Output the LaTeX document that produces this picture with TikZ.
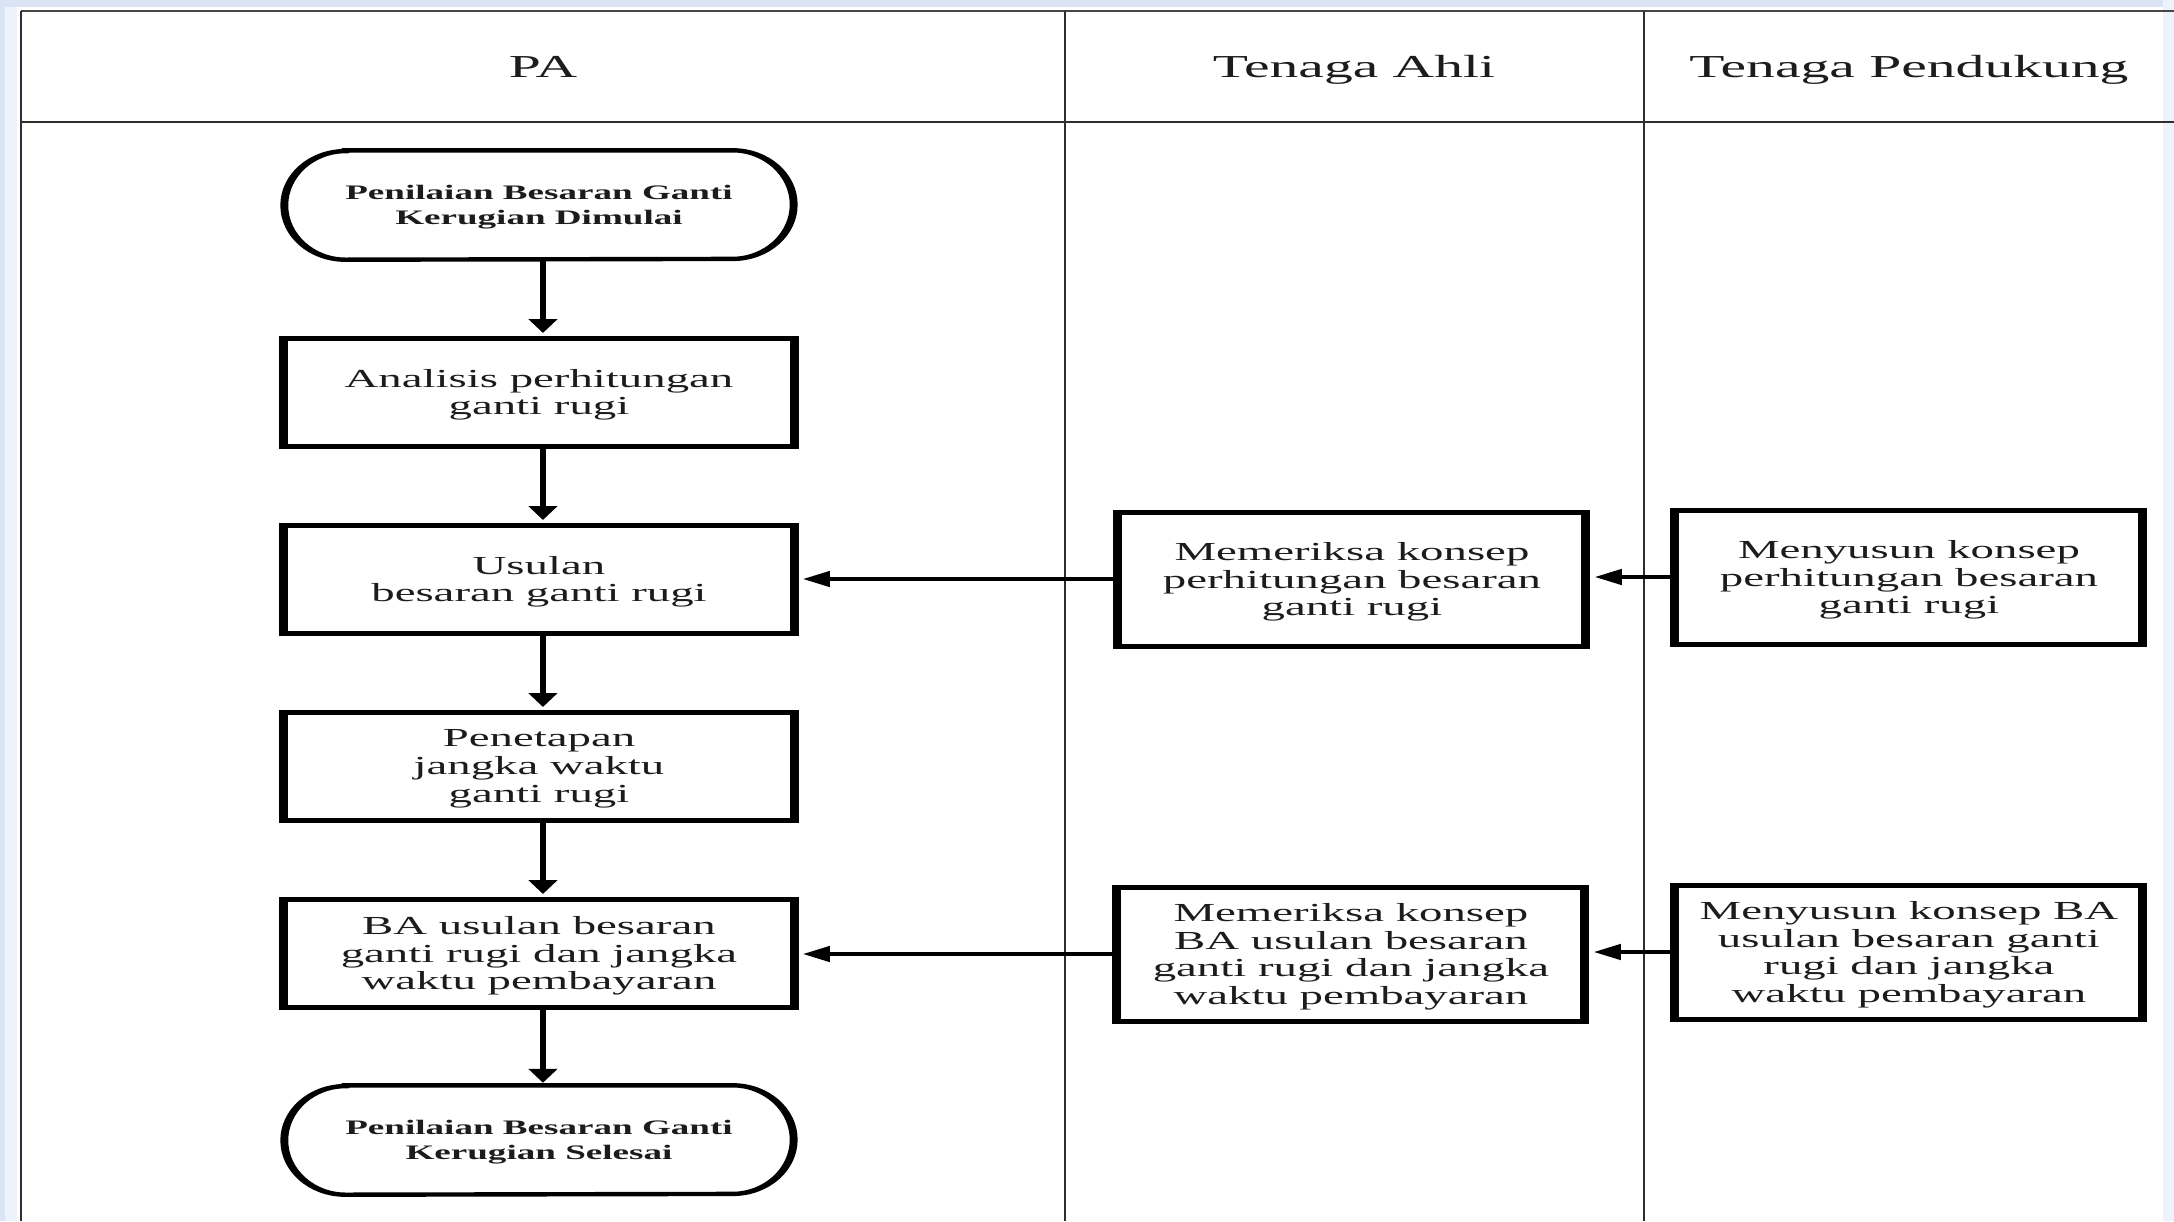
\documentclass[tikz,border=0pt]{standalone}
\usepackage{fontspec}
\setmainfont{Liberation Serif}
\usetikzlibrary{arrows.meta}
\definecolor{ink}{HTML}{1C1C1C}
\definecolor{rim}{RGB}{218,228,245}
\definecolor{rimlight}{RGB}{238,243,251}
\definecolor{ruleline}{HTML}{2E2E2E}

\tikzset{
  lane/.style={line width=1.1pt, draw=ruleline},
  lanehead/.style={font=\fontsize{16}{19}\selectfont, text=ink, inner sep=0pt, anchor=base},
  procbox/.style={draw=black, line width=2.5pt, fill=white, align=center, text=ink,
    font=\fontsize{13}{13.9}\selectfont, minimum width=141.7pt, minimum height=54pt,
    inner sep=0pt, text depth=-1.2pt},
  sidebox/.style={procbox, minimum width=130pt, minimum height=67pt},
  termtext/.style={align=center, text=ink, font=\bfseries\fontsize{10.3}{12.5}\selectfont,
    minimum width=141.1pt, minimum height=54.3pt, inner sep=0pt, text depth=-1.2pt},
  termline/.style={draw=black, line width=2.2pt},
  vflow/.style={draw=black, line width=1.7pt, shorten >=1.2pt, -{Triangle[length=7pt,width=7.6pt]}},
  hflow/.style={draw=black, line width=2.3pt, shorten >=1.2pt, -{Triangle[length=7.5pt,width=7.6pt]}},
}

\begin{document}
\begin{tikzpicture}[x=0.5pt, y=-0.5pt]
  \useasboundingbox (0,0) rectangle (2174,1221);
  \fill[white] (0,0) rectangle (2174,1221);
  % light page rim
  \fill[rimlight] (0,0) rectangle (17,1221);
  \fill[rim] (0,0) rectangle (5,1221);
  \fill[rim] (0,0) rectangle (2174,7);
  \fill[rimlight] (2163,0) rectangle (2174,1221);

  % swimlane table
  \draw[lane, draw=black!72] (21,11) -- (2174,11);
  \draw[lane] (21,11) -- (21,1221);
  \draw[lane] (21,122) -- (2174,122);
  \draw[lane] (1065,11) -- (1065,1221);
  \draw[lane] (1644,11) -- (1644,1221);

  \begin{scope}[transform canvas={xscale=1.8}, x=0.277778pt, y=-0.5pt]
    % lane headings
    \node[lanehead] (hpa) at (543,77) {PA};
    \node[lanehead] (hahli) at (1354,77) {Tenaga Ahli};
    \node[lanehead] (hdukung) at (1909,77) {Tenaga Pendukung};

    % PA lane
    \node[termtext] (start) at (539,205) {Penilaian Besaran Ganti\\Kerugian Dimulai};
    \node[procbox] (ana) at (539,392) {Analisis perhitungan\\ganti rugi};
    \node[procbox] (usul) at (539,579) {Usulan\\besaran ganti rugi};
    \node[procbox] (tetap) at (539,766) {Penetapan\\jangka waktu\\ganti rugi};
    \node[procbox] (ba) at (539,953) {BA usulan besaran\\ganti rugi dan jangka\\waktu pembayaran};
    \node[termtext] (finish) at (539,1140) {Penilaian Besaran Ganti\\Kerugian Selesai};

    % Tenaga Ahli lane
    \node[sidebox] (cek1) at (1352,579) {Memeriksa konsep\\perhitungan besaran\\ganti rugi};
    \node[sidebox] (cek2) at (1351,954) {Memeriksa konsep\\BA usulan besaran\\ganti rugi dan jangka\\waktu pembayaran};

    % Tenaga Pendukung lane
    \node[sidebox] (susun1) at (1909,577) {Menyusun konsep\\perhitungan besaran\\ganti rugi};
    \node[sidebox] (susun2) at (1909,952) {Menyusun konsep BA\\usulan besaran ganti\\rugi dan jangka\\waktu pembayaran};

    % terminator outlines
    \foreach \t in {start,finish}
      \draw[termline] ([xshift=17pt]\t.north west) -- ([xshift=-17pt]\t.north east)
        arc[start angle=90, end angle=-90, x radius=17pt, y radius=27.15pt]
        -- ([xshift=17pt]\t.south west)
        arc[start angle=270, end angle=90, x radius=17pt, y radius=27.15pt] -- cycle;

    % main flow
    \draw[vflow] ([xshift=1.1pt]start.south) -- ([xshift=1.1pt]ana.north);
    \draw[vflow] ([xshift=1.1pt]ana.south) -- ([xshift=1.1pt]usul.north);
    \draw[vflow] ([xshift=1.1pt]usul.south) -- ([xshift=1.1pt]tetap.north);
    \draw[vflow] ([xshift=1.1pt]tetap.south) -- ([xshift=1.1pt]ba.north);
    \draw[vflow] ([xshift=1.1pt]ba.south) -- ([xshift=1.1pt]finish.north);

    % hand-overs between lanes
    \draw[hflow] (susun1.west) -- (susun1.west -| cek1.east);
    \draw[hflow] (cek1.west) -- (cek1.west -| usul.east);
    \draw[hflow] (susun2.west) -- (susun2.west -| cek2.east);
    \draw[hflow] (cek2.west) -- (cek2.west -| ba.east);
  \end{scope}
\end{tikzpicture}
\end{document}
